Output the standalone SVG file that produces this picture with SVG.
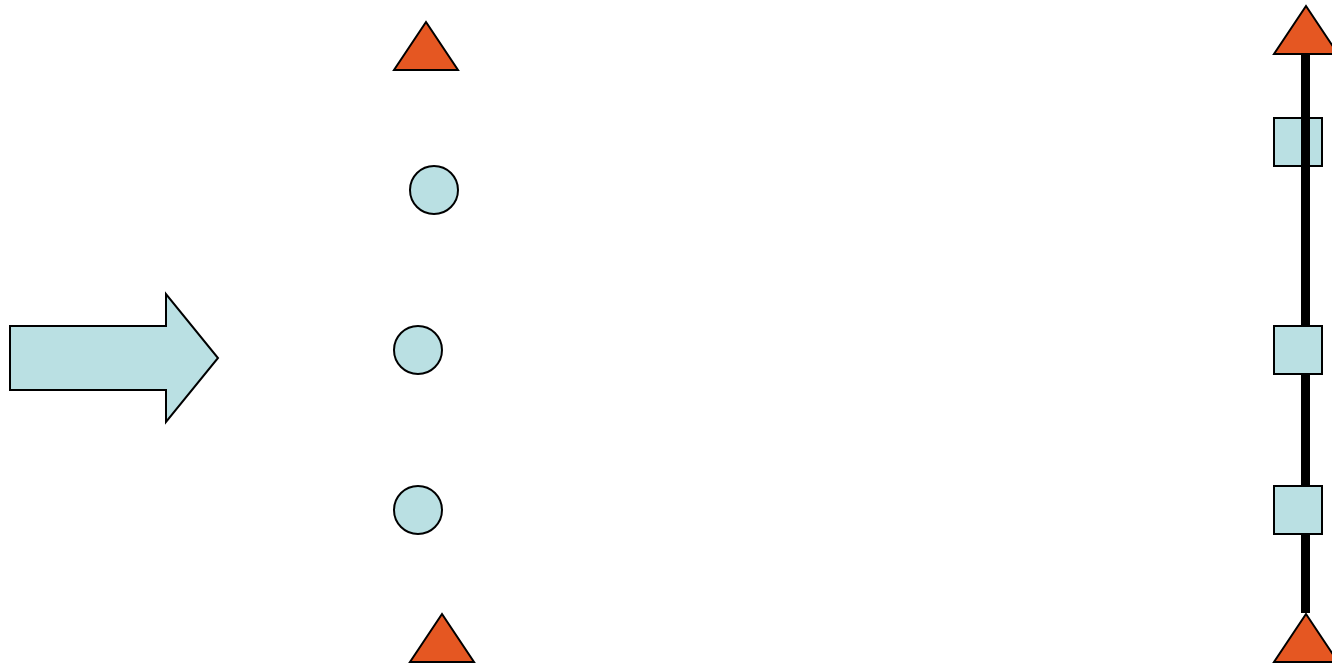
<svg xmlns="http://www.w3.org/2000/svg" width="1332" height="666" viewBox="0 0 1332 666">
<style>
.tri{fill:#E55722;stroke:#000;stroke-width:2;stroke-linejoin:miter}
.cy{fill:#BAE0E3;stroke:#000;stroke-width:2}
.bar{stroke:#000;stroke-width:9;fill:none}
</style>
<rect width="1332" height="666" fill="#fff"/>
<g id="arrow"><path class="cy" d="M10,326 H166 V294 L218,358 L166,422 V390 H10 Z"/></g>
<g id="tri-left-top"><path class="tri" d="M426,22 L458,70 L394,70 Z"/></g>
<g id="circle-1"><circle class="cy" cx="434" cy="190" r="24"/></g>
<g id="circle-2"><circle class="cy" cx="418" cy="350" r="24"/></g>
<g id="circle-3"><circle class="cy" cx="418" cy="510" r="24"/></g>
<g id="tri-left-bottom"><path class="tri" d="M442,614 L474,662 L410,662 Z"/></g>
<g id="square-1"><rect class="cy" x="1274" y="118" width="48" height="48"/></g>
<g id="connectors"><line class="bar" x1="1305.5" y1="53" x2="1305.5" y2="613"/></g>
<g id="square-2"><rect class="cy" x="1274" y="326" width="48" height="48"/></g>
<g id="square-3"><rect class="cy" x="1274" y="486" width="48" height="48"/></g>
<g id="tri-right-top"><path class="tri" d="M1306,6 L1338,54 L1274,54 Z"/></g>
<g id="tri-right-bottom"><path class="tri" d="M1306,614 L1338,662 L1274,662 Z"/></g>
</svg>
